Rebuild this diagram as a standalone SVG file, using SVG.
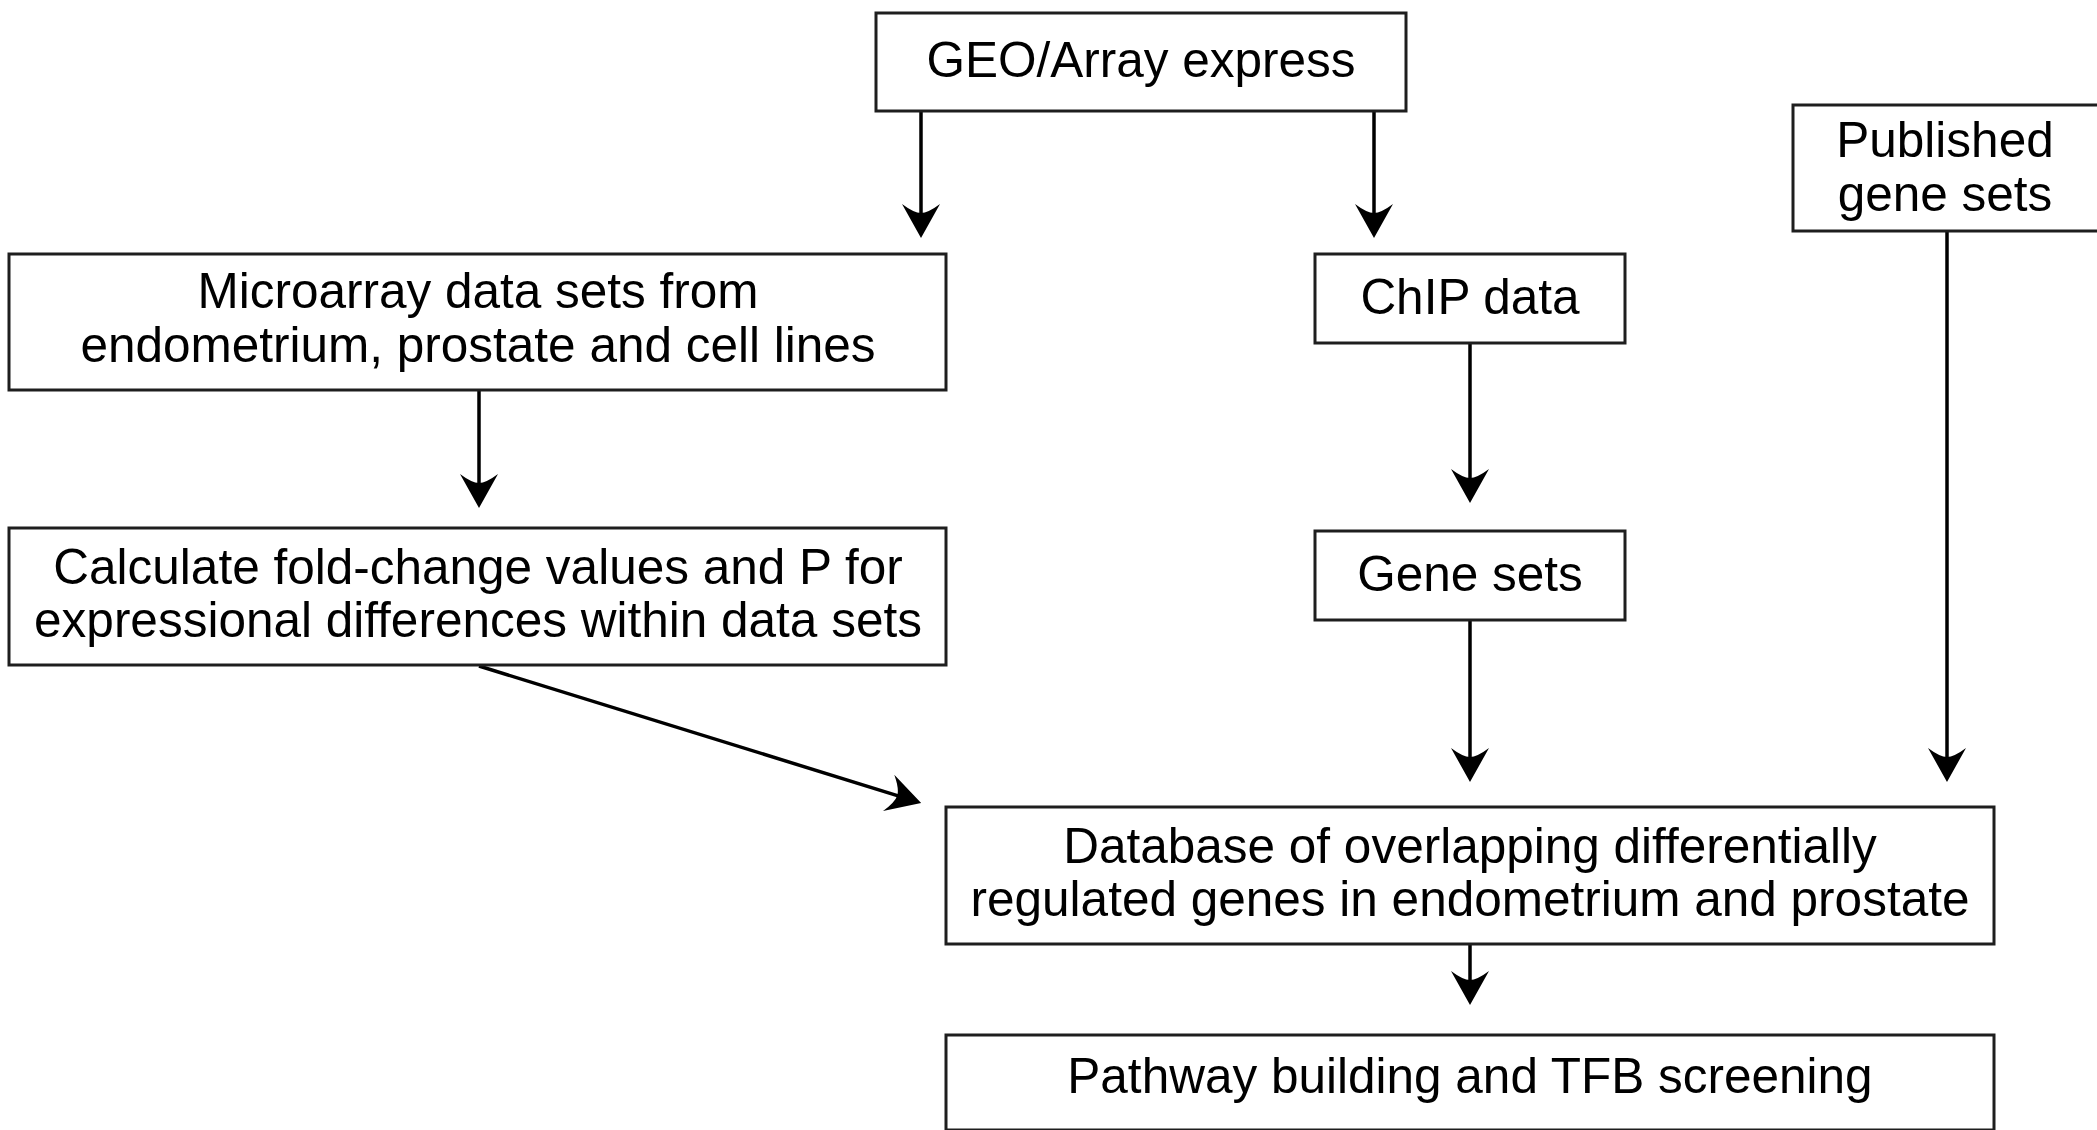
<svg xmlns="http://www.w3.org/2000/svg" width="2097" height="1130" viewBox="0 0 2097 1130">
  <defs>
    <style>
      .box { fill: #ffffff; stroke: #1e1e1e; stroke-width: 3; }
      .label { font-family: "Liberation Sans", Arial, sans-serif; font-size: 49.5px; fill: #000000; text-anchor: middle; }
      .edge { fill: none; stroke: #000000; stroke-width: 3.5; }
    </style>
    <!-- notched arrowhead; line stops 8px short of the tip -->
    <marker id="arrow" viewBox="0 0 34 38" refX="26" refY="19" markerWidth="34" markerHeight="38" markerUnits="userSpaceOnUse" orient="auto">
      <path d="M34,19 L0,0 Q9,12 9,19 Q9,26 0,38 Z" fill="#000000"/>
    </marker>
  </defs>

  <rect width="2097" height="1130" fill="#ffffff"/>

  <!-- connectors -->
  <g id="connectors">
    <line class="edge" x1="921" y1="111" x2="921" y2="230" marker-end="url(#arrow)"/>
    <line class="edge" x1="1374" y1="111" x2="1374" y2="230" marker-end="url(#arrow)"/>
    <line class="edge" x1="479" y1="390" x2="479" y2="500" marker-end="url(#arrow)"/>
    <line class="edge" x1="1470" y1="343" x2="1470" y2="495" marker-end="url(#arrow)"/>
    <line class="edge" x1="1470" y1="620" x2="1470" y2="774" marker-end="url(#arrow)"/>
    <line class="edge" x1="1947" y1="231" x2="1947" y2="774" marker-end="url(#arrow)"/>
    <line class="edge" x1="1470" y1="944" x2="1470" y2="997" marker-end="url(#arrow)"/>
    <line class="edge" x1="479" y1="666" x2="913.5" y2="800.6" marker-end="url(#arrow)"/>
  </g>

  <!-- nodes -->
  <g id="geo">
    <rect class="box" x="876" y="13" width="530" height="98"/>
    <text class="label" x="1141" y="77">GEO/Array express</text>
  </g>

  <g id="published">
    <rect class="box" x="1793" y="105" width="320" height="126"/>
    <text class="label" x="1945" y="157">Published</text>
    <text class="label" x="1945" y="211">gene sets</text>
  </g>

  <g id="microarray">
    <rect class="box" x="9" y="254" width="937" height="136"/>
    <text class="label" x="478" y="308">Microarray data sets from</text>
    <text class="label" x="478" y="362">endometrium, prostate and cell lines</text>
  </g>

  <g id="chip">
    <rect class="box" x="1315" y="254" width="310" height="89"/>
    <text class="label" x="1470" y="314">ChIP data</text>
  </g>

  <g id="calc">
    <rect class="box" x="9" y="528" width="937" height="137"/>
    <text class="label" x="478" y="584">Calculate fold-change values and P for</text>
    <text class="label" x="478" y="637">expressional differences within data sets</text>
  </g>

  <g id="genesets">
    <rect class="box" x="1315" y="531" width="310" height="89"/>
    <text class="label" x="1470" y="591">Gene sets</text>
  </g>

  <g id="database">
    <rect class="box" x="946" y="807" width="1048" height="137"/>
    <text class="label" x="1470" y="863">Database of overlapping differentially</text>
    <text class="label" x="1470" y="916">regulated genes in endometrium and prostate</text>
  </g>

  <g id="pathway">
    <rect class="box" x="946" y="1035" width="1048" height="95"/>
    <text class="label" x="1470" y="1093">Pathway building and TFB screening</text>
  </g>
</svg>
